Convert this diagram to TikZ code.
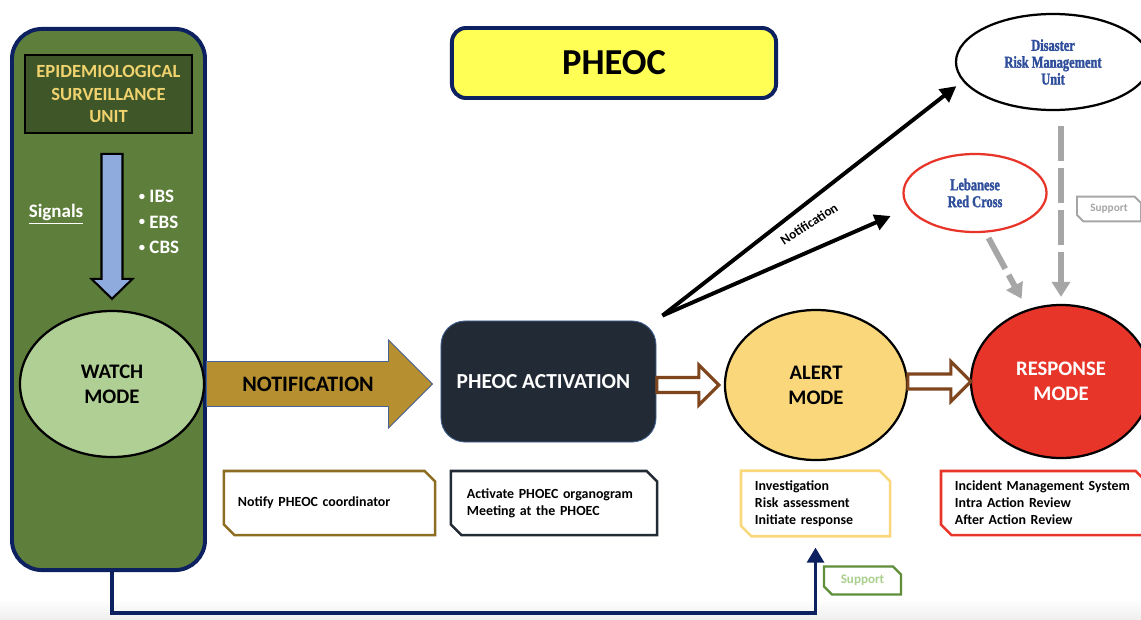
\documentclass[tikz,border=0pt]{standalone}
\usepackage{fontspec}
\setmainfont{Carlito}
\newfontfamily\unitfont[FakeStretch=0.75,FakeBold=1.6]{Liberation Serif Bold}
\usetikzlibrary{shapes.geometric,shapes.misc,arrows.meta,calc,positioning}

\definecolor{panelgreen}{RGB}{94,126,60}
\definecolor{navy}{RGB}{13,33,96}
\definecolor{esugreen}{RGB}{62,86,40}
\definecolor{esutext}{RGB}{240,210,110}
\definecolor{sigblue}{RGB}{143,170,220}
\definecolor{watchfill}{RGB}{176,207,148}
\definecolor{notegold}{RGB}{181,143,48}
\definecolor{goldline}{RGB}{140,109,34}
\definecolor{edgeblue}{RGB}{68,100,150}
\definecolor{actfill}{RGB}{34,42,53}
\definecolor{pheocyellow}{RGB}{255,255,85}
\definecolor{brownline}{RGB}{127,70,30}
\definecolor{alertfill}{RGB}{249,215,122}
\definecolor{respred}{RGB}{232,53,42}
\definecolor{unitblue}{RGB}{46,77,155}
\definecolor{supgrey}{RGB}{166,166,166}
\definecolor{supgreen}{RGB}{94,142,58}
\definecolor{suptext}{RGB}{169,208,142}

\newcommand{\sigdot}{\raisebox{0.12em}{\fontsize{9}{9}\selectfont\textbullet}\ }

\tikzset{
  modeellipse/.style={ellipse, draw=black, line width=1.6pt, inner sep=0pt, align=center,
    font=\bfseries\fontsize{14.7}{17.7}\selectfont},
  unitellipse/.style={ellipse, draw=black, line width=1.6pt, fill=white, inner sep=0pt, align=center,
    text=unitblue, font=\unitfont\fontsize{11.8}{12}\selectfont},
  notebox/.style={chamfered rectangle, chamfered rectangle corners={north east,south west},
    chamfered rectangle xsep=0.13cm, chamfered rectangle ysep=0.13cm, line width=1.8pt,
    fill=white, inner xsep=0pt, align=left, font=\bfseries\fontsize{9.9}{12}\selectfont},
  blockarrow/.style={line width=0.6pt, line join=miter},
  hollow/.style={draw=brownline, fill=white, line width=2.2pt, line join=miter},
  notif/.style={line width=2.8pt, -{Triangle[length=0.4cm,width=0.4cm]}},
  supdash/.style={draw=supgrey, line width=4.2pt, dash pattern=on 0.875cm off 0.175cm,
    -{Triangle[length=0.375cm,width=0.45cm]}},
  supline/.style={draw=navy, line width=2.8pt, -{Triangle[length=0.38cm,width=0.42cm]}}
}

\begin{document}
\begin{tikzpicture}[x=0.025cm, y=-0.025cm]
 \useasboundingbox (0,0) rectangle (1141,619);
 \shade[top color=white, bottom color=black!6] (0,598) rectangle (1141,619);

 % surveillance panel
 \node[draw=navy, line width=2.8pt, fill=panelgreen, rounded corners=0.75cm,
   minimum width=4.825cm, minimum height=13.525cm] (panel) at (108.5,299.5) {};
 \node[draw=black, line width=1.5pt, fill=esugreen, text=esutext, align=center,
   minimum width=4.175cm, minimum height=1.95cm,
   font=\bfseries\fontsize{13.2}{16}\selectfont] (esu) at (108.5,94)
   {EPIDEMIOLOGICAL\\SURVEILLANCE\\UNIT};
 \node[modeellipse, fill=watchfill, minimum width=4.6cm, minimum height=3.65cm]
   (watch) at (112,384) {WATCH\\MODE};
 \node[text=white, font=\bfseries\fontsize{13.5}{16}\selectfont] (signals) at (56,214) {\underline{Signals}};
 \node[text=white, align=left, font=\bfseries\fontsize{13.5}{18}\selectfont] (sources) at (159,222)
   {\sigdot IBS\\\sigdot EBS\\\sigdot CBS};
 \draw[blockarrow, fill=sigblue, line width=1.5pt] ($(watch.north)+(0,-11)$) -- ++(-20.5,-20) -- ++(10,0)
   -- ++(0,-125) -- ++(21,0) -- ++(0,125) -- ++(10,0) -- cycle;

 % PHEOC
 \node[draw=navy, line width=2.8pt, fill=pheocyellow, rounded corners=0.35cm,
   minimum width=8.1cm, minimum height=1.75cm, font=\bfseries\fontsize{26}{30}\selectfont]
   (title) at (614,63) {PHEOC};
 \node[draw=edgeblue, line width=0.6pt, fill=actfill, text=white, rounded corners=0.6cm,
   minimum width=5.375cm, minimum height=3.025cm, font=\bfseries\fontsize{15.2}{18}\selectfont]
   (act) at (548.5,381.5) {PHEOC ACTIVATION\hspace*{0.25cm}};
 \draw[blockarrow, draw=edgeblue, fill=notegold] ($(act.west |- watch)+(-8,0)$) -- ++(-44,-44)
   -- ++(0,21.5) -- ++(-182,0) -- ++(0,45) -- ++(182,0) -- ++(0,21.5) -- cycle;
 \node[font=\bfseries\fontsize{15.7}{18}\selectfont] (notetext) at (308,384) {NOTIFICATION};

 % modes
 \node[modeellipse, fill=alertfill, minimum width=4.55cm, minimum height=3.75cm]
   (alert) at (816,385) {ALERT\\MODE};
 \node[modeellipse, fill=respred, text=white, minimum width=4.5cm, minimum height=3.825cm]
   (resp) at (1061,381.5) {RESPONSE\\MODE};
 \draw[hollow] ($(alert.west)+(-5,0)$) -- ++(-20,-20) -- ++(0,12.5) -- ++(-42,0)
   -- ++(0,15) -- ++(42,0) -- ++(0,12.5) -- cycle;
 \draw[hollow] ($(resp.west)+(1,0)$) -- ++(-20,-20) -- ++(0,12.5) -- ++(-43,0)
   -- ++(0,15) -- ++(43,0) -- ++(0,12.5) -- cycle;

 % partners
 \node[unitellipse, minimum width=4.85cm, minimum height=2.4cm] (drmu) at (1053,62)
   {Disaster\\Risk Management\\Unit};
 \node[unitellipse, draw=respred, minimum width=3.575cm, minimum height=1.95cm] (lrc) at (975,193)
   {Lebanese\\Red Cross};
 \coordinate (fork) at ($(act.north east)+(6,-5)$);
 \draw[notif, shorten >=0.2cm] (fork) -- (drmu.192);
 \draw[notif, shorten >=0.47cm] (fork) -- (lrc.193);
 \node[rotate=33, inner sep=0pt, font=\bfseries\fontsize{9.5}{11}\selectfont] (notiflabel) at (809,224) {Notification};
 \draw[supdash, shorten <=0.15cm, shorten >=0.3cm] (lrc.285) -- (resp.115);
 \draw[supdash, shorten <=0.375cm, shorten >=0.175cm] (drmu.south -| resp.north) -- (resp.north);
 \node[notebox, draw=supgrey, text=supgrey, minimum width=1.6cm, minimum height=0.55cm,
   chamfered rectangle xsep=0.08cm, chamfered rectangle ysep=0.08cm, line width=1.4pt,
   font=\bfseries\fontsize{8}{9}\selectfont] (greysup) at (1109,209) {Support};

 % tasks
 \node[notebox, draw=goldline, minimum width=5.275cm, minimum height=1.6cm, text width=4.575cm]
   (notify) at (329.5,503) {Notify PHEOC coordinator};
 \node[notebox, draw=actfill, minimum width=5.15cm, minimum height=1.6cm, text width=4.35cm]
   (activ) at (554,503) {Activate PHOEC organogram\\Meeting at the PHOEC};
 \node[notebox, draw=alertfill, minimum width=3.725cm, minimum height=1.575cm, text width=3.025cm]
   (alertnote) at (815.5,503.5) {Investigation\\Risk assessment\\Initiate response};
 \node[notebox, draw=respred, minimum width=5.125cm, minimum height=1.6cm, text width=4.425cm]
   (respnote) at (1043.5,503) {Incident Management System\\Intra Action Review\\After Action Review};

 % support from surveillance
 \draw[supline] (panel.south -| watch) -- ++(0,41) -| ($(alertnote.south)+(0,10)$);
 \node[notebox, draw=supgreen, text=suptext, minimum width=1.925cm, minimum height=0.625cm,
   chamfered rectangle xsep=0.1cm, chamfered rectangle ysep=0.1cm, line width=1.6pt,
   font=\bfseries\fontsize{9.3}{10}\selectfont] (greensup) at (862.5,580.5) {Support};
\end{tikzpicture}
\end{document}
